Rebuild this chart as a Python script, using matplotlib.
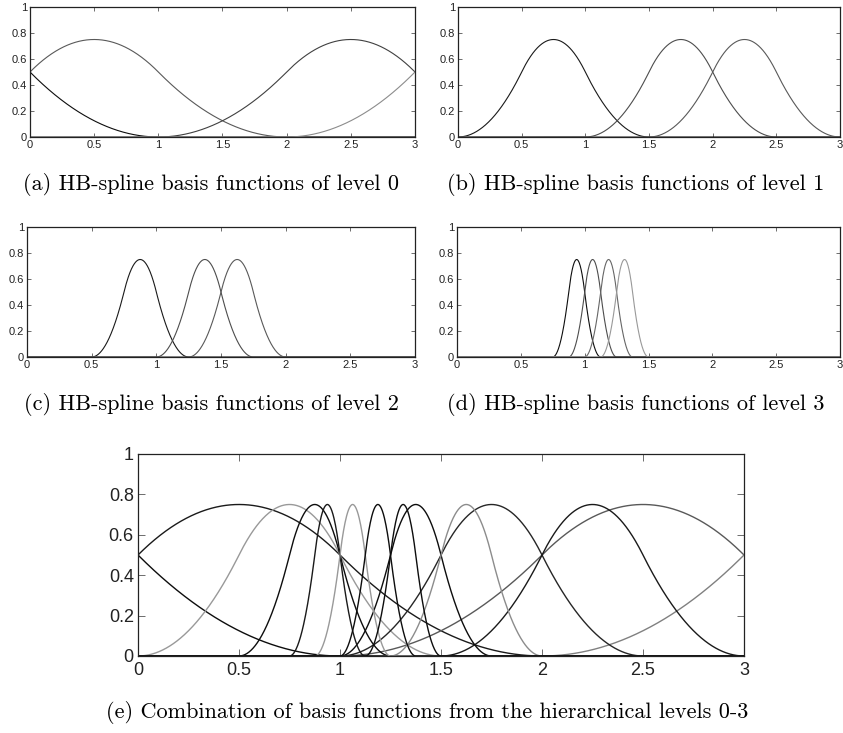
import numpy as np
import matplotlib
matplotlib.use("Agg")
import matplotlib.pyplot as plt

# ---- data: knot centres (x of peak) and knot spacing for each hierarchical level ----
level0_centers = [-0.5, 0.5, 2.5, 3.5]
level0_spacing = 1.0
level1_centers = [0.75, 1.75, 2.25]
level1_spacing = 0.5
level2_centers = [0.875, 1.375, 1.625]
level2_spacing = 0.25
level3_centers = [0.9375, 1.0625, 1.1875, 1.3125]
level3_spacing = 0.125

# gray level of each curve in panels (a)-(d)
level0_grays = [0.05, 0.35, 0.25, 0.55]
level1_grays = [0.1, 0.3, 0.35]
level2_grays = [0.1, 0.3, 0.35]
level3_grays = [0.05, 0.3, 0.4, 0.6]

# gray level of each curve in panel (e)
comb_grays0 = [0.05, 0.1, 0.35, 0.5]
comb_grays1 = [0.6, 0.15, 0.1]
comb_grays2 = [0.05, 0.05, 0.55]
comb_grays3 = [0.1, 0.6, 0.05, 0.05]

xticks = [0, 0.5, 1, 1.5, 2, 2.5, 3]
xticklabels = ["0", "0.5", "1", "1.5", "2", "2.5", "3"]
yticks = [0, 0.2, 0.4, 0.6, 0.8, 1]
yticklabels = ["0", "0.2", "0.4", "0.6", "0.8", "1"]

captions = [
    "(a) HB-spline basis functions of level 0",
    "(b) HB-spline basis functions of level 1",
    "(c) HB-spline basis functions of level 2",
    "(d) HB-spline basis functions of level 3",
    "(e) Combination of basis functions from the hierarchical levels 0-3",
]


def quad_bspline(x, center, h):
    """Uniform quadratic B-spline with knot spacing h centred at `center`."""
    t = (x - center) / h + 1.5
    y = np.zeros_like(x)
    m1 = (t >= 0) & (t < 1)
    m2 = (t >= 1) & (t < 2)
    m3 = (t >= 2) & (t <= 3)
    y[m1] = 0.5 * t[m1] ** 2
    y[m2] = 0.75 - (t[m2] - 1.5) ** 2
    y[m3] = 0.5 * (3 - t[m3]) ** 2
    return y


TICKFONT = ["Liberation Sans Narrow", "Liberation Sans", "DejaVu Sans"]
CAPFONT = ["cmr10", "DejaVu Serif"]

fig = plt.figure(figsize=(8.43, 7.33), dpi=100)
W, H = 843.0, 733.0


def make_ax(left, top, right, bottom):
    return fig.add_axes([left / W, 1 - bottom / H, (right - left) / W, (bottom - top) / H])


def style(ax, fs, ticklen, xpad, ypad):
    ax.set_xlim(0, 3)
    ax.set_ylim(0, 1)
    ax.set_xticks(xticks)
    ax.set_xticklabels(xticklabels, fontfamily=TICKFONT, fontsize=fs, color="#222222")
    ax.set_yticks(yticks)
    ax.set_yticklabels(yticklabels, fontfamily=TICKFONT, fontsize=fs, color="#222222")
    ax.tick_params(direction="in", top=True, right=True, length=ticklen, width=0.6,
                   color="#555555")
    ax.tick_params(axis="x", pad=xpad)
    ax.tick_params(axis="y", pad=ypad)
    for s in ax.spines.values():
        s.set_linewidth(0.9)
        s.set_color("#222222")


def draw(ax, centers, h, grays, lw):
    x = np.linspace(0, 3, 1201)
    for c, g in zip(centers, grays):
        ax.plot(x, quad_bspline(x, c, h), color=str(g), lw=lw)


panels = [
    ((30, 7, 415, 137), level0_centers, level0_spacing, level0_grays),
    ((458, 7, 840, 137), level1_centers, level1_spacing, level1_grays),
    ((27, 227, 415, 357), level2_centers, level2_spacing, level2_grays),
    ((457, 227, 840, 357), level3_centers, level3_spacing, level3_grays),
]
for (box, cen, h, gr) in panels:
    ax = make_ax(*box)
    draw(ax, cen, h, gr, 0.8)
    style(ax, 8, 3, 2, 2)

axe = make_ax(138, 454, 744, 656)
for cen, h, gr in [(level0_centers, level0_spacing, comb_grays0),
                   (level1_centers, level1_spacing, comb_grays1),
                   (level2_centers, level2_spacing, comb_grays2),
                   (level3_centers, level3_spacing, comb_grays3)]:
    draw(axe, cen, h, gr, 1.0)
style(axe, 13, 5, 4, 3)

CAPFS = 16
fig.text(211 / W, 1 - 185 / H, captions[0], ha="center", va="center", fontsize=CAPFS, family=CAPFONT)
fig.text(636 / W, 1 - 185 / H, captions[1], ha="center", va="center", fontsize=CAPFS, family=CAPFONT)
fig.text(211 / W, 1 - 405 / H, captions[2], ha="center", va="center", fontsize=CAPFS, family=CAPFONT)
fig.text(636 / W, 1 - 405 / H, captions[3], ha="center", va="center", fontsize=CAPFS, family=CAPFONT)
fig.text(427 / W, 1 - 713 / H, captions[4], ha="center", va="center", fontsize=CAPFS, family=CAPFONT)

fig.savefig("out.png", dpi=100, facecolor="white")
